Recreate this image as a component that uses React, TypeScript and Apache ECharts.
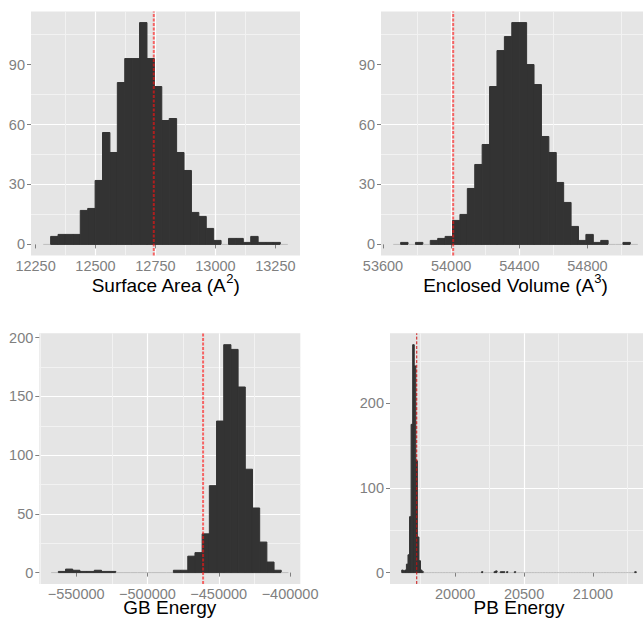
import React, { useEffect, useRef } from 'react';
import * as echarts from 'echarts';

// ---------- Panel 1: Surface Area ----------
const saCounts = [0, 4, 5, 5, 5, 17, 18, 32, 56, 46, 81, 93, 93, 111, 93, 79, 62, 63, 46, 37, 16, 14, 8, 2, 0, 3, 3, 1, 4, 1, 1, 1, 0];
const saBinStart = 12282;
const saBinWidth = 30.9;
const saMean = 12743;
const saXTicks = [12250, 12500, 12750, 13000, 13250];
const saYTicks = [0, 30, 60, 90];

// ---------- Panel 2: Enclosed Volume ----------
const evCounts = [0, 1, 0, 1, 0, 2, 3, 4, 12, 15, 28, 40, 50, 79, 97, 104, 111, 111, 90, 80, 54, 46, 31, 21, 9, 2, 5, 1, 2, 0, 0, 1, 0];
const evBinStart = 53660;
const evBinWidth = 43.5;
const evMean = 54012;
const evXTicks = [53600, 54000, 54400, 54800];
const evYTicks = [0, 30, 60, 90];

// ---------- Panel 3: GB Energy ----------
const gbCounts = [0, 1, 3, 2, 1, 1, 2, 1, 1, 0, 0, 0, 0, 0, 0, 0, 0, 2, 2, 14, 17, 33, 74, 129, 194, 190, 158, 88, 55, 26, 9, 2, 0];
const gbBinStart = -567523;
const gbBinWidth = 5042;
const gbMean = -460981;
const gbXTicks = [-550000, -500000, -450000, -400000];
const gbYTicks = [0, 50, 100, 150, 200];

// ---------- Panel 4: PB Energy ----------
const pbCounts = [
  3, 2, 3, 10, 21, 66, 175, 269, 244, 132, 42, 14, 3, 1, 0, 0, 0, 0, 0, 0, 0, 0, 0, 0, 0,
  0, 0, 0, 0, 0, 0, 0, 0, 0, 0, 0, 0, 0, 0, 0, 0, 0, 0, 0, 0, 0, 0, 0, 0, 0,
  0, 1, 0, 0, 0, 0, 0, 0, 0, 1, 2, 0, 0, 1, 1, 1, 0, 1, 0, 0, 0, 0, 1, 0, 0,
  0, 0, 0, 0, 0, 0, 0, 0, 0, 0, 0, 0, 0, 0, 0, 0, 0, 0, 0, 0, 0, 0, 0, 0, 0,
  0, 0, 0, 0, 0, 0, 0, 0, 0, 0, 0, 0, 0, 0, 0, 0, 0, 0, 0, 0, 0, 0, 0, 0, 0,
  0, 0, 0, 0, 0, 0, 0, 0, 0, 0, 0, 0, 0, 0, 0, 0, 0, 0, 0, 0, 0, 0, 0, 0, 1,
];
const pbBinStart = 19612;
const pbBinWidth = 11.35;
const pbMean = 19721;
const pbXTicks = [20000, 20500, 21000];
const pbYTicks = [0, 100, 200];

const FONT = '"Liberation Sans", Arial, Helvetica, sans-serif';
const TICK_GREY = '#7f7f7f';

interface PanelSpec {
  counts: number[];
  start: number;
  width: number;
  mean: number;
  xTicks: number[];
  yTicks: number[];
  xInterval: number;
  yInterval: number;
  name: string;
  nameGap: number;
  nameLineHeight: number;
  grid: { left: number; top: number; width: number; height: number };
  meanColor: string;
  meanWidth: number;
  meanDash: number[];
}

const panels: PanelSpec[] = [
  {
    counts: saCounts, start: saBinStart, width: saBinWidth, mean: saMean,
    xTicks: saXTicks, yTicks: saYTicks, xInterval: 250, yInterval: 30,
    name: '{m|Surface Area (A}{s|2}{m|)}', nameGap: 16.8, nameLineHeight: 26,
    grid: { left: 31, top: 11.5, width: 269, height: 244 },
    meanColor: 'rgba(255,20,20,0.62)', meanWidth: 2, meanDash: [3, 1.5],
  },
  {
    counts: evCounts, start: evBinStart, width: evBinWidth, mean: evMean,
    xTicks: evXTicks, yTicks: evYTicks, xInterval: 400, yInterval: 30,
    name: '{m|Enclosed Volume (A}{s|3}{m|)}', nameGap: 16.8, nameLineHeight: 26,
    grid: { left: 381, top: 11.5, width: 269, height: 244 },
    meanColor: 'rgba(255,20,20,0.62)', meanWidth: 2, meanDash: [3, 1.5],
  },
  {
    counts: gbCounts, start: gbBinStart, width: gbBinWidth, mean: gbMean,
    xTicks: gbXTicks, yTicks: gbYTicks, xInterval: 50000, yInterval: 50,
    name: '{m|GB Energy}', nameGap: 15.3, nameLineHeight: 17,
    grid: { left: 39.3, top: 333.3, width: 261, height: 250.7 },
    meanColor: 'rgba(255,20,20,0.62)', meanWidth: 2, meanDash: [3, 1.5],
  },
  {
    counts: pbCounts, start: pbBinStart, width: pbBinWidth, mean: pbMean,
    xTicks: pbXTicks, yTicks: pbYTicks, xInterval: 500, yInterval: 100,
    name: '{m|PB Energy}', nameGap: 15.3, nameLineHeight: 17,
    grid: { left: 390, top: 333.3, width: 258, height: 250.7 },
    meanColor: '#cc1010', meanWidth: 1, meanDash: [3, 1.7],
  },
];

const fmt = (v: number) => (v < 0 ? '\u2212' + Math.abs(v) : String(v));

function buildOption() {
  const grid: any[] = [];
  const xAxis: any[] = [];
  const yAxis: any[] = [];
  const series: any[] = [];

  panels.forEach((p, i) => {
    const n = p.counts.length;
    const end = p.start + n * p.width;
    const range = end - p.start;
    const xMin = p.start - 0.05 * range;
    const xMax = end + 0.05 * range;
    const maxC = Math.max(...p.counts);
    const yMin = -0.05 * maxC;
    const yMax = maxC * 1.05;

    grid.push({
      ...p.grid,
      show: true,
      backgroundColor: '#e5e5e5',
      borderWidth: 0,
      containLabel: false,
      outerBoundsMode: 'none',
    });

    xAxis.push({
      type: 'value',
      gridIndex: i,
      min: xMin,
      max: xMax,
      minInterval: p.xInterval,
      maxInterval: p.xInterval,
      axisLine: { show: false },
      axisTick: {
        show: true,
        customValues: p.xTicks,
        length: 4,
        lineStyle: { color: TICK_GREY, width: 1 },
      },
      axisLabel: {
        customValues: p.xTicks,
        formatter: fmt,
        color: TICK_GREY,
        fontSize: 14.5,
        lineHeight: 12,
        fontFamily: FONT,
        margin: 4,
      },
      splitLine: {
        show: true,
        showMinLine: false,
        showMaxLine: false,
        lineStyle: { color: '#ffffff', width: 1.2 },
      },
      minorTick: { show: false, splitNumber: 2 },
      minorSplitLine: { show: true, lineStyle: { color: '#f2f2f2', width: 1 } },
      name: p.name,
      nameLocation: 'middle',
      nameGap: p.nameGap,
      nameMoveOverlap: false,
      nameTextStyle: {
        fontFamily: FONT,
        color: '#000000',
        fontSize: 19,
        lineHeight: p.nameLineHeight,
        rich: {
          m: { fontFamily: FONT, color: '#000000', fontSize: 19, lineHeight: p.nameLineHeight },
          s: { fontFamily: FONT, color: '#000000', fontSize: 13, lineHeight: 13, verticalAlign: 'top' },
        },
      },
    });

    yAxis.push({
      type: 'value',
      gridIndex: i,
      min: yMin,
      max: yMax,
      minInterval: p.yInterval,
      maxInterval: p.yInterval,
      axisLine: { show: false },
      axisTick: {
        show: true,
        customValues: p.yTicks,
        length: 4,
        lineStyle: { color: TICK_GREY, width: 1 },
      },
      axisLabel: {
        customValues: p.yTicks,
        formatter: fmt,
        color: TICK_GREY,
        fontSize: 14.5,
        fontFamily: FONT,
        margin: 6,
      },
      splitLine: {
        show: true,
        showMinLine: false,
        showMaxLine: false,
        lineStyle: { color: '#ffffff', width: 1.2 },
      },
      minorTick: { show: false, splitNumber: 2 },
      minorSplitLine: { show: true, lineStyle: { color: '#f2f2f2', width: 1 } },
    });

    const data = p.counts.map((c, k) => [p.start + k * p.width, p.start + (k + 1) * p.width, c]);

    series.push({
      type: 'custom',
      xAxisIndex: i,
      yAxisIndex: i,
      clip: true,
      silent: true,
      encode: { x: [0, 1], y: 2 },
      data,
      renderItem: (params: any, api: any) => {
        const x0 = api.value(0);
        const x1 = api.value(1);
        const c = api.value(2);
        const p0 = api.coord([x0, 0]);
        const p1 = api.coord([x1, c]);
        if (c === 0) {
          return {
            type: 'line',
            shape: { x1: p0[0], y1: p0[1], x2: p1[0], y2: p0[1] },
            style: { stroke: '#bdbdbd', lineWidth: 1 },
          };
        }
        return {
          type: 'rect',
          shape: { x: p0[0], y: p1[1], width: p1[0] - p0[0], height: p0[1] - p1[1] },
          style: { fill: '#333333', stroke: '#333333', lineWidth: 1 },
        };
      },
      z: 2,
    });

    series.push({
      type: 'line',
      xAxisIndex: i,
      yAxisIndex: i,
      data: [
        [p.mean, yMin],
        [p.mean, yMax],
      ],
      symbol: 'none',
      silent: true,
      lineStyle: { color: p.meanColor, width: p.meanWidth, type: p.meanDash },
      z: 5,
    });
  });

  return {
    animation: false,
    backgroundColor: '#ffffff',
    grid,
    xAxis,
    yAxis,
    series,
  };
}

export default function App() {
  const ref = useRef<HTMLDivElement>(null);
  useEffect(() => {
    if (!ref.current) return;
    const chart = echarts.init(ref.current, undefined, { renderer: 'svg' });
    chart.setOption(buildOption() as any);
    return () => {
      chart.dispose();
    };
  }, []);
  return (
    <div
      ref={ref}
      style={{ position: 'absolute', left: 0, top: 0, width: 643, height: 618, background: '#fff' }}
    />
  );
}
